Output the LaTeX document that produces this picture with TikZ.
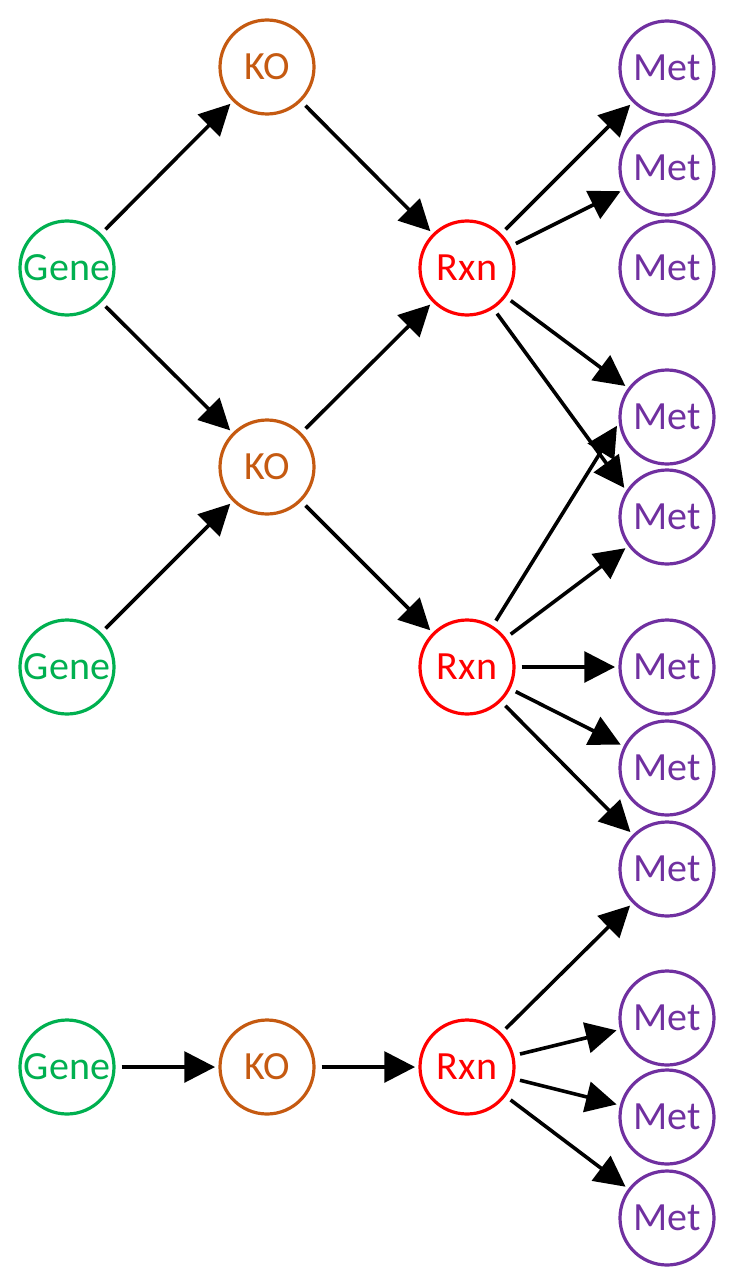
\documentclass[tikz,border=0pt]{standalone}
\usepackage{fontspec}
\setmainfont{Carlito}
\usetikzlibrary{arrows.meta}
\definecolor{genegreen}{HTML}{00B050}
\definecolor{koorange}{HTML}{C55A11}
\definecolor{rxnred}{HTML}{FF0000}
\definecolor{metpurple}{HTML}{7030A0}
\begin{document}
\begin{tikzpicture}[x=0.75pt,y=-0.75pt,
	ball/.style={circle,draw=#1,text=#1,line width=2.4pt,minimum size=70.5pt,inner sep=0pt,font=\fontsize{30}{32}\selectfont},
	link/.style={line width=2.7pt,-{Triangle[length=23pt,width=23pt]},shorten <=4.5pt,shorten >=2.5pt}]
	\useasboundingbox (0,0) rectangle (736,1284);
	\node[ball=genegreen] (g1) at (67,268) {Gene};
	\node[ball=genegreen] (g2) at (67,667) {Gene};
	\node[ball=genegreen] (g3) at (67,1067) {Gene};
	\node[ball=koorange] (k1) at (267,67) {KO};
	\node[ball=koorange] (k2) at (267,467) {KO};
	\node[ball=koorange] (k3) at (267,1067) {KO};
	\node[ball=rxnred] (r1) at (467,268) {Rxn};
	\node[ball=rxnred] (r2) at (467,667) {Rxn};
	\node[ball=rxnred] (r3) at (467,1067) {Rxn};
	\foreach \i/\y in {1/68,2/168,3/268,4/417,5/517,6/667,7/768,8/869,9/1018,10/1117,11/1218}
		\node[ball=metpurple] (m\i) at (667,\y) {Met};
	\foreach \a/\b in {g1/k1,g1/k2,g2/k2,k1/r1,k2/r1,k2/r2,g3/k3,k3/r3,
		r1/m1,r1/m2,r1/m4,r2/m5,r2/m6,r2/m7,r2/m8,r3/m8,r3/m9,r3/m10,r3/m11}
		\draw[link] (\a)--(\b);
	% the two crossing ones
	\draw[link] (r1.303)--(m5.147);
	\draw[link] (r2.58)--(m4.187);
\end{tikzpicture}
\end{document}
